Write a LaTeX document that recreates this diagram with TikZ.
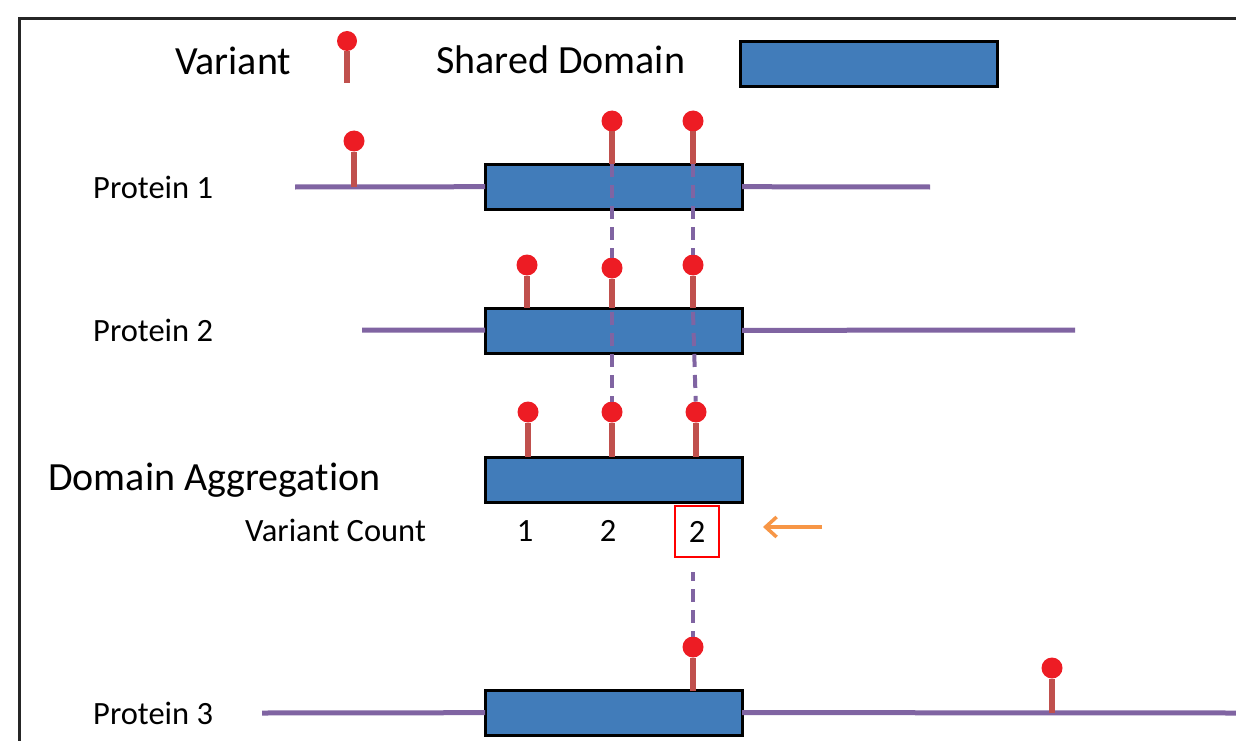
\documentclass[tikz,border=0pt]{standalone}
\usepackage{fontspec}
\setmainfont{Carlito}[Ligatures=NoCommon]
\usetikzlibrary{arrows.meta}
\definecolor{domainblue}{RGB}{65,124,186}
\definecolor{chainpurple}{RGB}{128,100,162}
\definecolor{stemred}{RGB}{192,80,77}
\definecolor{headred}{RGB}{237,28,36}
\definecolor{arroworange}{RGB}{247,150,70}
\definecolor{framegray}{RGB}{38,38,38}

\begin{document}
\begin{tikzpicture}[x=1pt,y=-1pt,
  domainbox/.style={draw=black, line width=3pt, fill=domainblue,
    minimum width=257pt, minimum height=45pt, inner sep=0pt, outer sep=0pt},
  chain/.style={draw=chainpurple, line width=5pt},
  stem/.style={draw=stemred, line width=5.5pt},
  pinhead/.style={circle, fill=headred, minimum size=21pt, inner sep=0pt, outer sep=0pt},
  link/.style={draw=chainpurple, line width=4pt, dash pattern=on 13pt off 8pt},
  bigtext/.style={anchor=base west, inner sep=0pt, font=\fontsize{40}{48}\selectfont},
  label/.style={anchor=base west, inner sep=0pt, font=\fontsize{32.5}{39}\selectfont},
  count/.style={font=\fontsize{32.5}{39}\selectfont, minimum width=44pt, minimum height=51pt, inner sep=0pt},
]
\useasboundingbox (0,0) rectangle (1236,741);

% outer frame
\draw[framegray, line width=3.5pt] (19.5,741) -- (19.5,18.5) -- (1236,18.5);

% legend
\node[bigtext] (lgvar) at (175,75) {Variant};
\coordinate (lgb) at (347,83);
\node[pinhead, minimum size=20pt] (lgh) at (347,41) {};
\draw[stem] (lgb) -- (lgh);
\node[bigtext] (lgdom) at (436,74) {Shared Domain};
\node[domainbox] (lgbox) at (868.5,64.5) {};

% Protein 1
\node[label] (t1) at (93,198) {Protein 1};
\coordinate (p1L) at (295,187);
\coordinate (p1R) at (930,187);
\node[domainbox] (box1) at (613.5,186.5) {};
\draw[chain] (p1L) -- (box1);
\draw[chain] (box1) -- (p1R);
\coordinate (b1a) at (354,187);
\coordinate (b1b) at (612,164);
\coordinate (b1c) at (693,164);
\node[pinhead] (h1a) at (354,141) {};
\node[pinhead] (h1b) at (612,121) {};
\node[pinhead] (h1c) at (693,121) {};
\draw[stem] (b1a) -- (h1a);
\draw[stem] (b1b) -- (h1b);
\draw[stem] (b1c) -- (h1c);

% Protein 2
\node[label] (t2) at (93,341) {Protein 2};
\coordinate (p2L) at (362,330);
\coordinate (p2R) at (1075,330);
\node[domainbox] (box2) at (613.5,330.5) {};
\draw[chain] (p2L) -- (box2);
\draw[chain] (box2) -- (p2R);
\coordinate (b2a) at (527,308);
\coordinate (b2b) at (612,308);
\coordinate (b2c) at (693,308);
\node[pinhead] (h2a) at (527,265) {};
\node[pinhead] (h2b) at (612,268) {};
\node[pinhead] (h2c) at (693,265) {};
\draw[stem] (b2a) -- (h2a);
\draw[stem] (b2b) -- (h2b);
\draw[stem] (b2c) -- (h2c);

% shared positions between Protein 1 and Protein 2
\draw[link] (b1b) -- (h2b);
\draw[link] (b1c) -- (h2c);

% Domain aggregation
\node[bigtext] (tagg) at (48,490) {Domain Aggregation};
\node[domainbox] (boxa) at (613.5,479.5) {};
\coordinate (bAa) at (528,457);
\coordinate (bAb) at (612,457);
\coordinate (bAc) at (696,457);
\node[pinhead] (hAa) at (528,412) {};
\node[pinhead] (hAb) at (612,412) {};
\node[pinhead] (hAc) at (696,412) {};
\draw[stem] (bAa) -- (hAa);
\draw[stem] (bAb) -- (hAb);
\draw[stem] (bAc) -- (hAc);
\draw[link] (b2b) ++(0,4) coordinate (d2b) (d2b) -- (hAb);
\draw[link] (b2c) ++(0,4) coordinate (d2c) (d2c) -- (hAc);

% variant counts
\node[label] (tcount) at (245,541) {Variant Count};
\node[count] (c1) at (525,531) {1};
\node[count] (c2) at (608,531) {2};
\node[count, draw=red, line width=2pt] (c3) at (697,531.5) {2};
\coordinate (arS) at (822,527);
\coordinate (arE) at (763,527);
\draw[arroworange, line width=3.5pt, -{Straight Barb[length=11pt,width=20pt]}] (arS) -- (arE);

% Protein 3
\node[label] (t3) at (93,724) {Protein 3};
\coordinate (p3L) at (262,713);
\coordinate (p3R) at (1236,713);
\node[domainbox] (box3) at (613.5,712.5) {};
\draw[chain] (p3L) -- (box3);
\draw[chain] (box3) -- (p3R);
\coordinate (b3a) at (693,691);
\coordinate (b3b) at (1052,713);
\node[pinhead] (h3a) at (693,647) {};
\node[pinhead] (h3b) at (1052,668) {};
\draw[stem] (b3a) -- (h3a);
\draw[stem] (b3b) -- (h3b);

% link from the highlighted count to Protein 3
\draw[link, dash phase=4pt] (c3.south -| h3a) ++(0,14) coordinate (d3) (d3) -- (h3a);
\end{tikzpicture}
\end{document}
